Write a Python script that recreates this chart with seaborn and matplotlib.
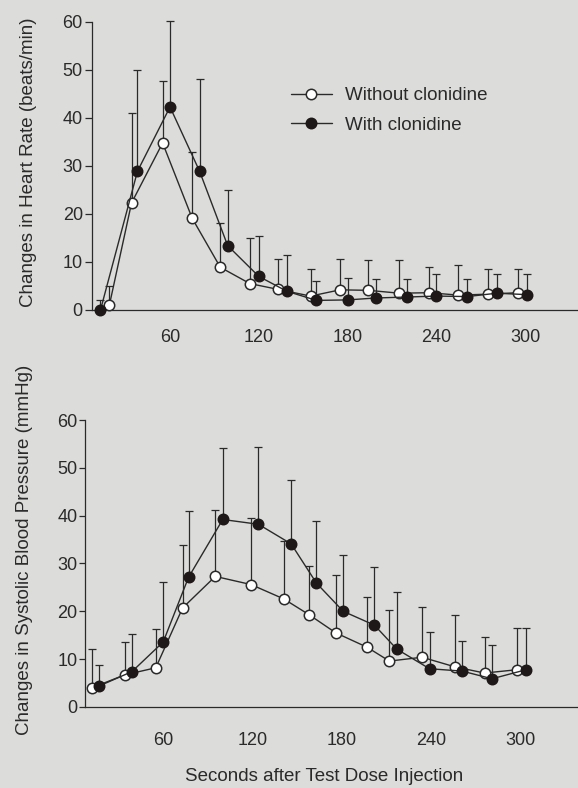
import numpy as np
import pandas as pd
import matplotlib
matplotlib.use('Agg')
import matplotlib.pyplot as plt
import seaborn as sns

# Heart rate panel
hr_time_without = [19, 34, 55, 75, 94, 114, 133, 155, 175, 194, 215, 235, 255, 275, 295]
hr_time_with = [13, 38, 60, 80, 99, 120, 139, 159, 180, 199, 220, 240, 261, 281, 301]
hr_without = [1.0, 22.3, 34.8, 19.1, 8.9, 5.5, 4.3, 2.9, 4.2, 4.1, 3.5, 3.6, 3.1, 3.3, 3.6]
hr_without_top = [5.0, 41.0, 47.8, 33.0, 18.2, 14.9, 10.7, 8.6, 10.6, 10.5, 10.5, 9.0, 9.4, 8.5, 8.6]
hr_with = [0.0, 28.9, 42.3, 28.9, 13.4, 7.0, 3.9, 2.0, 2.1, 2.5, 2.7, 2.9, 2.8, 3.5, 3.2]
hr_with_top = [2.1, 50.0, 60.3, 48.2, 24.9, 15.4, 11.4, 6.1, 6.6, 6.5, 6.5, 7.4, 6.5, 7.5, 7.4]

# Systolic blood pressure panel
bp_time_without = [12, 34, 55, 73, 95, 119, 141, 158, 176, 197, 212, 234, 256, 276, 298]
bp_time_with = [17, 39, 60, 77, 100, 124, 146, 163, 181, 202, 217, 239, 261, 281, 304]
bp_without = [4.0, 6.7, 8.2, 20.7, 27.3, 25.6, 22.6, 19.3, 15.5, 12.5, 9.6, 10.4, 8.4, 7.1, 7.8]
bp_without_top = [12.2, 13.6, 16.3, 33.8, 41.2, 39.5, 34.6, 29.4, 27.7, 23.1, 20.3, 21.0, 19.2, 14.7, 16.5]
bp_with = [4.4, 7.4, 13.6, 27.1, 39.2, 38.2, 34.1, 25.9, 20.0, 17.1, 12.1, 8.0, 7.5, 5.9, 7.8]
bp_with_top = [8.8, 15.3, 26.1, 40.9, 54.1, 54.3, 47.5, 38.9, 31.8, 29.2, 24.1, 15.6, 13.9, 13.0, 16.5]

x_ticks = [60, 120, 180, 240, 300]
y_ticks = [0, 10, 20, 30, 40, 50, 60]

paper = '#dcdcda'
ink = '#2a2a2a'
dark = '#1e1818'

sns.set_theme(style='ticks')
plt.rcParams['font.family'] = ['Liberation Sans', 'DejaVu Sans']
plt.rcParams['text.color'] = ink
plt.rcParams['axes.labelcolor'] = ink

fig = plt.figure(figsize=(5.78, 7.88), dpi=100, facecolor=paper)
ax_hr = fig.add_axes([0.159, 0.6066, 0.841, 0.3655])
ax_bp = fig.add_axes([0.147, 0.1028, 0.853, 0.3642])


def draw_panel(ax, t_wo, y_wo, top_wo, t_w, y_w, top_w, xlim, ytick_len, xpad):
    ax.set_facecolor(paper)
    df = pd.DataFrame({
        'time': list(t_wo) + list(t_w),
        'value': list(y_wo) + list(y_w),
        'group': ['Without clonidine'] * len(t_wo) + ['With clonidine'] * len(t_w),
    })
    # upper error bars only
    err_wo = np.array(top_wo) - np.array(y_wo)
    err_w = np.array(top_w) - np.array(y_w)
    ax.errorbar(t_wo, y_wo, yerr=[np.zeros(len(err_wo)), err_wo], fmt='none',
                ecolor=ink, elinewidth=0.9, capsize=3, capthick=0.9, zorder=2, clip_on=False)
    ax.errorbar(t_w, y_w, yerr=[np.zeros(len(err_w)), err_w], fmt='none',
                ecolor=ink, elinewidth=0.9, capsize=3, capthick=0.9, zorder=2, clip_on=False)
    sns.lineplot(data=df[df.group == 'Without clonidine'], x='time', y='value', ax=ax,
                 color=ink, linewidth=1.0, marker='o', markersize=7.5,
                 markerfacecolor='white', markeredgecolor=ink, markeredgewidth=1.1,
                 errorbar=None, label='Without clonidine', zorder=3, clip_on=False)
    sns.lineplot(data=df[df.group == 'With clonidine'], x='time', y='value', ax=ax,
                 color=ink, linewidth=1.0, marker='o', markersize=7.5,
                 markerfacecolor=dark, markeredgecolor=dark, markeredgewidth=1.1,
                 errorbar=None, label='With clonidine', zorder=4, clip_on=False)
    ax.set_xlim(*xlim)
    ax.set_ylim(0, 60)
    ax.set_xticks(x_ticks)
    ax.set_yticks(y_ticks)
    ax.tick_params(axis='x', length=0, pad=xpad, labelsize=13, labelcolor=ink)
    ax.tick_params(axis='y', length=ytick_len, width=0.9, pad=1.5, labelsize=13,
                   labelcolor=ink, color=ink)
    for side in ['top', 'right']:
        ax.spines[side].set_visible(False)
    for side in ['left', 'bottom']:
        ax.spines[side].set_color(ink)
        ax.spines[side].set_linewidth(0.9)
    ax.set_xlabel('')
    ax.set_ylabel('')


draw_panel(ax_hr, hr_time_without, hr_without, hr_without_top,
           hr_time_with, hr_with, hr_with_top, (7.2, 335.8), 5, 13.5)
draw_panel(ax_bp, bp_time_without, bp_without, bp_without_top,
           bp_time_with, bp_with, bp_with_top, (7.4, 338.8), 4, 18)

ax_hr.legend(loc='upper left', bbox_to_anchor=(0.409, 0.773), frameon=False,
             fontsize=13.5, handlelength=2.2, handletextpad=0.7, labelspacing=0.65,
             borderpad=0, borderaxespad=0)
ax_bp.get_legend().remove()

ax_hr.set_ylabel('Changes in Heart Rate (beats/min)', fontsize=13.5)
ax_hr.yaxis.set_label_coords(0.064, 0.794, transform=fig.transFigure)
ax_bp.set_ylabel('Changes in Systolic Blood Pressure (mmHg)', fontsize=13.5)
ax_bp.yaxis.set_label_coords(0.057, 0.302, transform=fig.transFigure)
ax_bp.set_xlabel('Seconds after Test Dose Injection', fontsize=13.5)
ax_bp.xaxis.set_label_coords(324 / 578, 0.0254, transform=fig.transFigure)

fig.savefig('out.png', dpi=100, facecolor=paper)
